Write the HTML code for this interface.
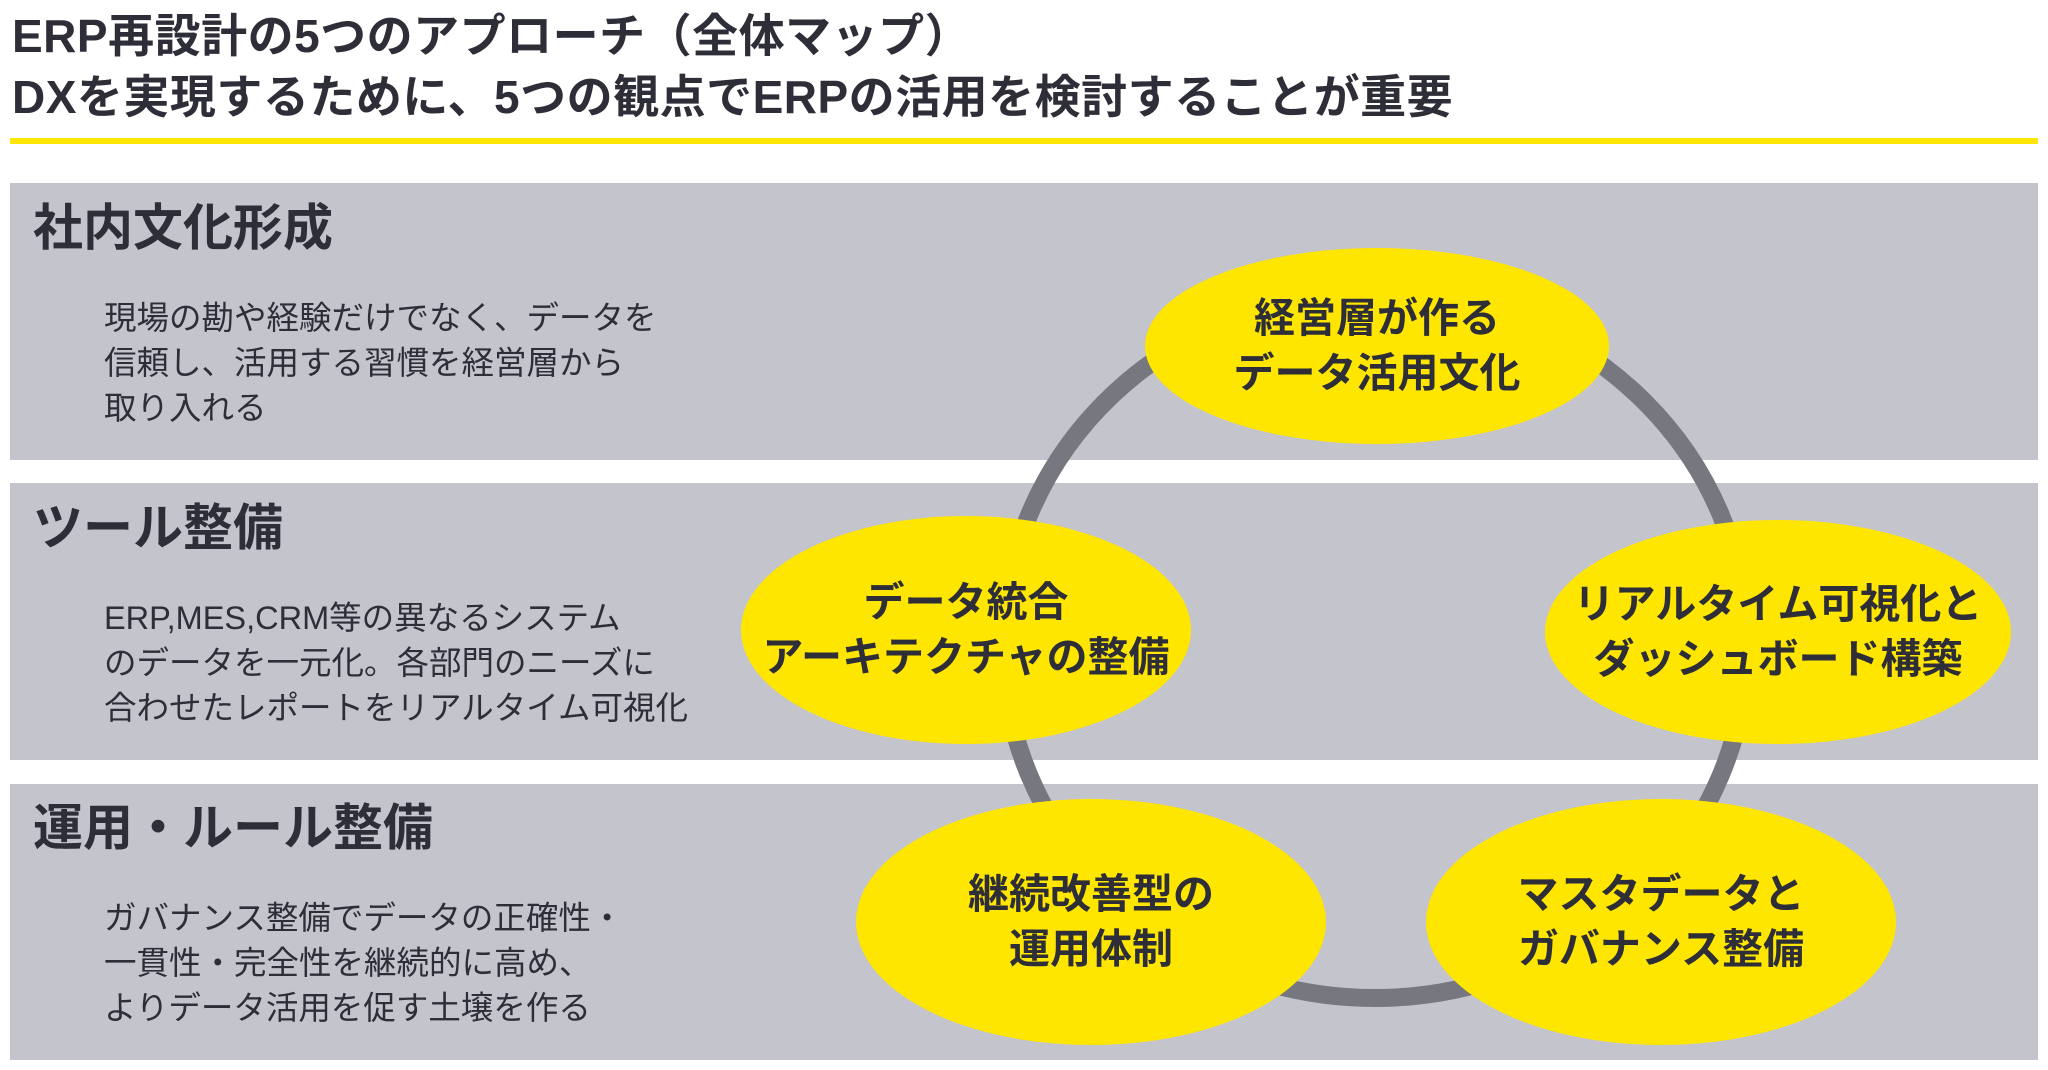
<!DOCTYPE html>
<html><head><meta charset="utf-8"><style>
*{margin:0;padding:0;box-sizing:border-box}
body{width:2048px;height:1070px;background:#fff;position:relative;overflow:hidden;font-family:"Liberation Sans","Noto Sans CJK JP",sans-serif;color:#2e2e38}
.t{position:absolute;left:12px;font-size:46px;font-weight:bold;white-space:nowrap;letter-spacing:0.5px}
.band{position:absolute;left:10px;width:2028px;background:#c3c4cc}
.h{position:absolute;left:33px;font-size:50px;font-weight:bold}
.b{position:absolute;left:104px;font-size:32.5px;line-height:45px;white-space:nowrap}
.e{position:absolute;background:#ffe600;border-radius:50%;display:flex;align-items:center;justify-content:center;text-align:center;font-size:41px;font-weight:bold;line-height:55px}
</style></head><body>
<div class="t" style="top:0px">ERP再設計の5つのアプローチ（全体マップ）</div>
<div class="t" style="top:61px">DXを実現するために、5つの観点でERPの活用を検討することが重要</div>
<div style="position:absolute;left:10px;top:138px;width:2028px;height:6px;background:#ffe600"></div>
<div class="band" style="top:183px;height:277px"></div>
<div class="band" style="top:483px;height:277px"></div>
<div class="band" style="top:784px;height:276px"></div>
<div class="h" style="top:188px">社内文化形成</div>
<div class="b" style="top:296px">現場の勘や経験だけでなく、データを<br>信頼し、活用する習慣を経営層から<br>取り入れる</div>
<div class="h" style="top:488px">ツール整備</div>
<div class="b" style="top:596px">ERP,MES,CRM等の異なるシステム<br>のデータを一元化。各部門のニーズに<br>合わせたレポートをリアルタイム可視化</div>
<div class="h" style="top:788px">運用・ルール整備</div>
<div class="b" style="top:896px">ガバナンス整備でデータの正確性・<br>一貫性・完全性を継続的に高め、<br>よりデータ活用を促す土壌を作る</div>
<svg style="position:absolute;left:0;top:0" width="2048" height="1070"><ellipse cx="1375" cy="645" rx="372" ry="353" fill="none" stroke="#76777f" stroke-width="18"/></svg>
<div class="e" style="left:1145px;top:248px;width:464px;height:196px">経営層が作る<br>データ活用文化</div>
<div class="e" style="left:741px;top:516px;width:450px;height:228px">データ統合<br>アーキテクチャの整備</div>
<div class="e" style="left:1545px;top:520px;width:466px;height:224px">リアルタイム可視化と<br>ダッシュボード構築</div>
<div class="e" style="left:856px;top:799px;width:470px;height:246px">継続改善型の<br>運用体制</div>
<div class="e" style="left:1426px;top:799px;width:470px;height:246px">マスタデータと<br>ガバナンス整備</div>
</body></html>
